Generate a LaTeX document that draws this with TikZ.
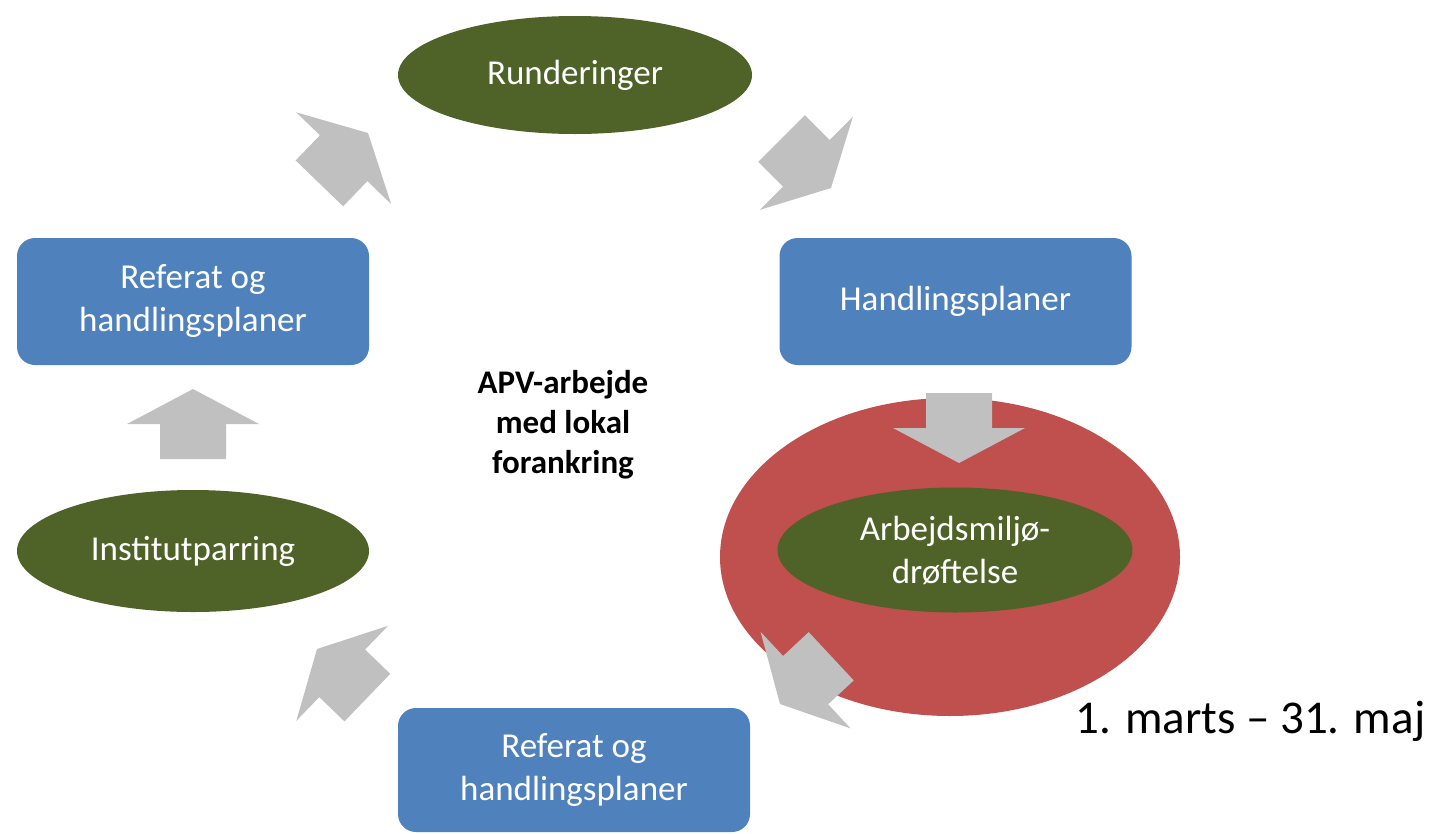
\documentclass[tikz,border=0pt]{standalone}
\usepackage{fontspec}
\setmainfont{Carlito}
\usetikzlibrary{shapes.geometric}

\definecolor{boxblue}{HTML}{4F81BD}
\definecolor{olive}{HTML}{4F6228}
\definecolor{halored}{HTML}{C0504D}
\definecolor{arrowgray}{HTML}{C0C0C0}

\tikzset{
  x=1pt, y=1pt,
  label text/.style={text=white, font=\fontsize{35}{43}\selectfont, align=center, inner sep=0pt},
  stepbox/.style={label text, rectangle, rounded corners=18pt, fill=boxblue,
                  minimum width=352pt, minimum height=127pt},
  oval/.style={label text, ellipse, fill=olive, minimum width=354pt, minimum height=118pt},
  % stubby block arrow, tip at the origin, pointing along +x
  blockarrow/.pic={
    \fill[arrowgray] (0,0) -- (-35,66) -- (-35,33) -- (-70,33) -- (-70,-33)
                     -- (-35,-33) -- (-35,-66) -- cycle;
  }
}

\begin{document}
\begin{tikzpicture}
  \useasboundingbox (0,0) rectangle (1434,-833);

  % red highlight behind the current step
  \node[ellipse, fill=halored, minimum width=460pt, minimum height=318pt, inner sep=0pt]
       (halo) at (950,-557) {};

  % cycle steps
  \node[oval]    (run)  at (575,-75)    {Runderinger};
  \node[stepbox] (hand) at (955.5,-301.5) {Handlingsplaner};
  \node[oval, minimum width=355pt, minimum height=125pt]
                 (arb)  at (955,-550)   {Arbejdsmiljø-\\drøftelse};
  \node[stepbox, minimum height=124pt]
                 (ref2) at (574,-770)   {Referat og\\handlingsplaner};
  \node[oval, minimum width=352pt, minimum height=122pt]
                 (inst) at (193,-551)   {Institutparring};
  \node[stepbox] (ref1) at (193,-301.5) {Referat og\\handlingsplaner};

  % centre caption
  \node[font=\bfseries\fontsize{33}{40}\selectfont, align=center, inner sep=0pt]
       (title) at (563,-425) {APV-arbejde\\med lokal\\forankring};

  % period
  \node[anchor=base west, inner sep=0pt, font=\fontsize{47}{56}\selectfont]
       (period) at (1075,-733) {1. marts – 31. maj};

  % block arrows between the steps
  \pic[rotate=46]   at (368,-133) {blockarrow};
  \pic[rotate=-45]  at (831,-188) {blockarrow};
  \pic[rotate=-90]  at (959,-463) {blockarrow};
  \pic[rotate=-137] at (780,-704) {blockarrow};
  \pic[rotate=136]  at (317,-649) {blockarrow};
  \pic[rotate=90]   at (193,-389) {blockarrow};
\end{tikzpicture}
\end{document}
